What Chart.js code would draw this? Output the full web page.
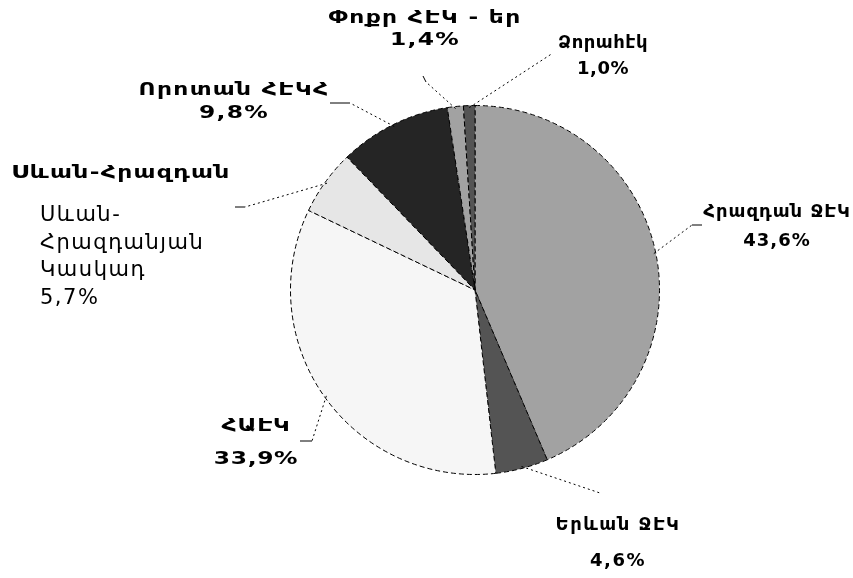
<!DOCTYPE html>
<html>
<head>
<meta charset="utf-8">
<script src="https://cdn.jsdelivr.net/npm/chart.js@4.4.0/dist/chart.umd.min.js"></script>
<style>
  html, body { margin: 0; padding: 0; background: #fff; }
  #wrap { width: 853px; height: 578px; }
</style>
</head>
<body>
<div id="wrap"><canvas id="pieChart" width="853" height="578"></canvas></div>
<script>
// slices, clockwise from 12 o'clock
const categories = ['Հրազդան ՋԷԿ', 'Երևան ՋԷԿ', 'ՀԱԷԿ', 'Սևան-Հրազդան', 'Որոտան ՀԷԿՀ', 'Փոքր ՀԷԿ - եր', 'Ձորահէկ'];
const shares = [43.6, 4.6, 33.9, 5.7, 9.8, 1.4, 1.0];
const sliceColors = ['#a2a2a2', '#545454', '#f6f6f6', '#e6e6e6', '#252525', '#a2a2a2', '#545454'];
const pctLabels = ['43,6%', '4,6%', '33,9%', '5,7%', '9,8%', '1,4%', '1,0%'];

// boxed note for the Sevan-Hrazdan cascade
const noteLines = ['Սևան-', 'Հրազդանյան', 'Կասկադ', '5,7%'];

// label centre, horizontal stretch, letter spacing, leader line bends (canvas px)
const labelSpots = [
    { x: 777, y: 212, py: 241, sx: 1, ls: 1, path: [[692, 225], [702, 225]] },
    { x: 618, y: 525, py: 561, sx: 1, ls: 1.5, path: [[600, 493]] },
    { x: 256, y: 426, py: 459, sx: 1.3, ls: 0.5, path: [[312, 441], [300, 441]] },
    { x: 121, y: 173, py: null, sx: 1.3, ls: 1, path: [[245, 207], [235, 207]] },
    { x: 234, y: 90, py: 113, sx: 1.3, ls: 1, path: [[350, 103], [330, 103]] },
    { x: 425, y: 18, py: 40, sx: 1.3, ls: 1, path: [[426, 82], [423, 76]] },
    { x: 603, y: 43, py: 69, sx: 1, ls: 0.5, path: [[553, 53]] }
];

function stretchText(ctx, text, x, y, sx) {
    ctx.save();
    ctx.translate(x, y);
    ctx.scale(sx, 1);
    ctx.fillText(text, 0, 0);
    ctx.restore();
}

const pieLabels = {
    id: 'pieLabels',
    afterDatasetsDraw(chart) {
        const ctx = chart.ctx;
        const arcs = chart.getDatasetMeta(0).data;
        ctx.save();
        ctx.strokeStyle = '#000';
        ctx.lineWidth = 1;
        arcs.forEach((arc, i) => {
            const spot = labelSpots[i];
            const mid = (arc.startAngle + arc.endAngle) / 2;
            const r = arc.outerRadius - 2;
            const sx = arc.x + Math.cos(mid) * r;
            const sy = arc.y + Math.sin(mid) * r;
            // dotted part
            ctx.setLineDash([2, 3]);
            ctx.beginPath();
            ctx.moveTo(sx, sy);
            ctx.lineTo(spot.path[0][0], spot.path[0][1]);
            ctx.stroke();
            // short solid tail
            if (spot.path.length > 1) {
                ctx.setLineDash([]);
                ctx.beginPath();
                ctx.moveTo(spot.path[0][0], spot.path[0][1]);
                ctx.lineTo(spot.path[1][0], spot.path[1][1]);
                ctx.stroke();
            }
            ctx.setLineDash([]);
            ctx.fillStyle = '#000';
            ctx.textAlign = 'center';
            ctx.textBaseline = 'middle';
            ctx.font = 'bold 18px "DejaVu Sans"';
            ctx.letterSpacing = spot.ls + 'px';
            stretchText(ctx, categories[i], spot.x, spot.y, spot.sx);
            if (spot.py !== null) stretchText(ctx, pctLabels[i], spot.x, spot.py, spot.sx);
        });
        // note box
        ctx.textAlign = 'left';
        ctx.letterSpacing = '1.5px';
        ctx.font = '21px "DejaVu Sans"';
        noteLines.forEach((t, k) => ctx.fillText(t, 40, 216 + k * 27.5));
        ctx.restore();
    }
};

const ctx = document.getElementById('pieChart').getContext('2d');
new Chart(ctx, {
    type: 'pie',
    data: {
        labels: categories,
        datasets: [{
            data: shares,
            backgroundColor: sliceColors,
            borderColor: '#000',
            borderWidth: 1,
            borderDash: [5, 3]
        }]
    },
    options: {
        responsive: false,
        animation: false,
        layout: { padding: { left: 290, right: 193, top: 105, bottom: 103 } },
        plugins: {
            legend: { display: false },
            tooltip: { enabled: false }
        }
    },
    plugins: [pieLabels]
});
</script>
</body>
</html>
